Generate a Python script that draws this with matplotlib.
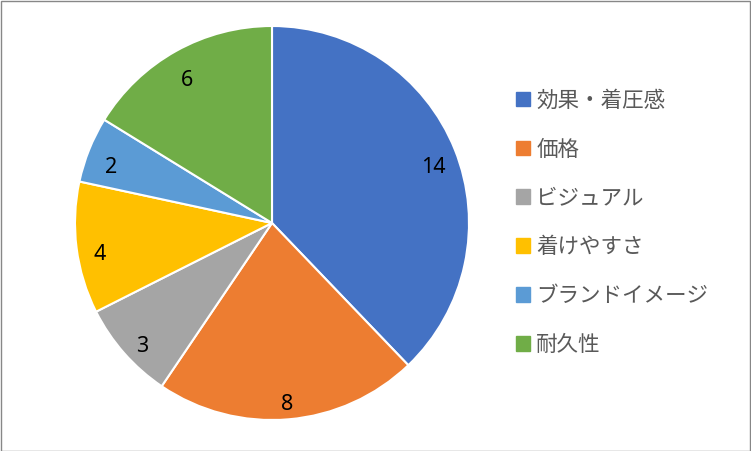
import matplotlib.pyplot as plt
from matplotlib.patches import Rectangle
from matplotlib.transforms import ScaledTranslation

plt.rcParams['font.family'] = ['Noto Sans CJK JP', 'DejaVu Sans']

# Data
categories = ["効果・着圧感", "価格", "ビジュアル", "着けやすさ", "ブランドイメージ", "耐久性"]
values = [14, 8, 3, 4, 2, 6]
colors = ["#4472C4", "#ED7D31", "#A5A5A5", "#FFC000", "#5B9BD5", "#70AD47"]

W, H = 751, 451
fig = plt.figure(figsize=(W / 100, H / 100), dpi=100)

# pie centre (272, 223) px, radius 197 px
cx, cy, r = 272, 223, 197
ax = fig.add_axes([(cx - r) / W, (H - cy - r) / H, 2 * r / W, 2 * r / H])

wedges, texts, autotexts = ax.pie(
    values, colors=colors, startangle=90, counterclock=False,
    autopct=lambda p: f"{p * sum(values) / 100:.0f}", pctdistance=0.88,
    wedgeprops=dict(edgecolor="white", linewidth=1.5),
    textprops=dict(fontsize=15.5, color="black", family="Noto Sans"),
)
# Excel places the data labels a little lower
for t in autotexts:
    t.set_transform(t.get_transform() + ScaledTranslation(0, -0.09, fig.dpi_scale_trans))

ax.set_aspect("equal")
ax.set_xlim(-1, 1)
ax.set_ylim(-1, 1)

# legend
handles = [Rectangle((0, 0), 1, 1, color=c) for c in colors]
leg = fig.legend(handles, categories, loc="upper left",
                 bbox_to_anchor=(507 / W, 1 - 81 / H),
                 frameon=False, fontsize=15.5, labelcolor="#595959",
                 handlelength=0.68, handleheight=0.68, handletextpad=0.28,
                 labelspacing=1.25, borderaxespad=0)

# chart border
fig.patches.append(Rectangle((0.5 / W, 0.5 / H), 1 - 1.5 / W, 1 - 1.5 / H,
                             transform=fig.transFigure, fill=False,
                             edgecolor="#878787", linewidth=1))

fig.savefig("out.png", dpi=100)
